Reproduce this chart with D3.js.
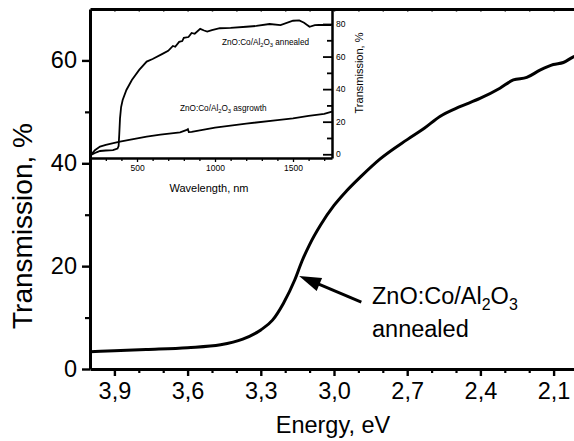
<!DOCTYPE html>
<html><head><meta charset="utf-8">
<script src="https://cdn.jsdelivr.net/npm/d3@7"></script>
<style>
html,body{margin:0;padding:0;background:#fff;overflow:hidden;}
svg text{font-family:"Liberation Sans",Arial,Helvetica,sans-serif;fill:#000;}
</style></head>
<body>
<svg id="c" width="574" height="441"></svg>
<script>
// ---- main chart data ----
const energy = [4.0, 3.9, 3.77, 3.6, 3.465, 3.374, 3.3, 3.252, 3.207, 3.161, 3.131, 3.10, 3.055, 3.0, 2.949, 2.888, 2.812, 2.7, 2.63, 2.566, 2.484, 2.402, 2.32, 2.265, 2.21, 2.156, 2.101, 2.06, 2.019, 2.0];
const trans  = [3.35, 3.55, 3.8, 4.15, 4.7, 5.8, 7.6, 9.5, 12.8, 17.3, 21.0, 24.2, 28.0, 31.8, 34.6, 37.5, 40.8, 44.6, 46.8, 49.1, 51.0, 52.6, 54.6, 56.2, 56.7, 58.1, 59.2, 59.6, 60.7, 61.1];
const xMajorTicks = [3.9, 3.6, 3.3, 3.0, 2.7, 2.4, 2.1];
const yMajorTicks = [0, 20, 40, 60];
const yMinorTicks = [10, 30, 50];

// ---- inset data ----
const wlAnnealed = [205, 240, 263, 300, 346, 375, 382, 386, 391, 398, 408, 432, 467, 514, 562, 600, 660, 700, 730, 745, 770, 790, 800, 830, 850, 870, 905, 930, 950, 980, 1031, 1100, 1200, 1265, 1350, 1420, 1500, 1540, 1571, 1606, 1640, 1665, 1747];
const tAnnealed  = [-0.4, 1.2, 2.0, 2.3, 2.5, 3.5, 5.0, 12.0, 22.0, 29.0, 33.3, 39.5, 45.6, 51.8, 56.9, 58.5, 61.5, 63.5, 66.5, 66.0, 69.0, 69.5, 71.5, 72.0, 74.5, 74.0, 77.0, 76.0, 75.3, 76.3, 77.4, 77.6, 78.3, 78.8, 80.0, 79.3, 82.0, 82.2, 80.8, 78.3, 79.3, 79.4, 79.4];
const wlAsgrowth = [205, 230, 263, 300, 348, 391, 450, 562, 650, 776, 815, 826, 832, 850, 1000, 1200, 1400, 1500, 1600, 1700, 1750];
const tAsgrowth  = [-0.4, 2.5, 4.7, 5.8, 6.8, 7.7, 8.8, 10.8, 12.0, 13.5, 14.8, 15.4, 13.6, 13.8, 16.3, 18.8, 21.0, 22.1, 23.6, 24.8, 26.2];
const insetXTicks = [500, 1000, 1500];
const insetYTicks = [0, 20, 40, 60, 80];

const svg = d3.select("#c");
const FONT = 23.5;

// scales
const x = d3.scaleLinear().domain([4.0, 2.0]).range([90, 578]);
const y = d3.scaleLinear().domain([0, 70]).range([369, 9]);
const xi = d3.scaleLinear().domain([205, 1750]).range([91, 332]);
const yi = d3.scaleLinear().domain([-2.3, 88.6]).range([158, 10]);

const commaFmt = d3.formatLocale({decimal: ",", thousands: ".", grouping: [3], currency: ["", ""]}).format(".1f");

// main curve
const mainData = energy.map((e, i) => [e, trans[i]]);
svg.append("defs").append("clipPath").attr("id", "clipMain")
  .append("rect").attr("x", 90).attr("y", 9).attr("width", 490).attr("height", 360);
svg.append("path").datum(mainData)
  .attr("clip-path", "url(#clipMain)")
  .attr("fill", "none").attr("stroke", "#000").attr("stroke-width", 3)
  .attr("d", d3.line().x(d => x(d[0])).y(d => y(d[1])).curve(d3.curveMonotoneX));

// bottom axis minor ticks
const minorX = d3.range(39, 19, -1).map(v => v / 10).filter(v => !xMajorTicks.some(m => Math.abs(m - v) < 1e-6));
const gxMinor = svg.append("g").attr("transform", `translate(0,${y(0)})`)
  .call(d3.axisBottom(x).tickValues(minorX).tickSize(4).tickFormat(""));
gxMinor.select(".domain").remove();
gxMinor.selectAll("line").attr("stroke-width", 2.2);

const gx = svg.append("g").attr("transform", `translate(0,${y(0)})`)
  .call(d3.axisBottom(x).tickValues(xMajorTicks).tickSize(7).tickSizeOuter(0).tickPadding(6).tickFormat(commaFmt));
gx.select(".domain").attr("stroke-width", 3);
gx.selectAll("line").attr("stroke-width", 2.4);
gx.selectAll("text").attr("font-size", FONT).attr("dy", "0.72em").attr("font-family", null);

// top frame with inward ticks
const gTop = svg.append("g").attr("transform", `translate(0,${y(70)})`)
  .call(d3.axisTop(x).tickValues(d3.range(39, 19, -1).map(v => v / 10)).tickSize(-2.5).tickSizeOuter(0).tickFormat(""));
gTop.select(".domain").attr("stroke-width", 3);
gTop.selectAll("line").attr("stroke-width", 1.5);

// left axis
const gyMinor = svg.append("g").attr("transform", `translate(${x(4.0)},0)`)
  .call(d3.axisLeft(y).tickValues(yMinorTicks).tickSize(5).tickFormat(""));
gyMinor.select(".domain").remove();
gyMinor.selectAll("line").attr("stroke-width", 2.2);
const gy = svg.append("g").attr("transform", `translate(${x(4.0)},0)`)
  .call(d3.axisLeft(y).tickValues(yMajorTicks).tickSize(8).tickSizeOuter(0).tickPadding(5).tickFormat(d3.format("d")));
gy.select(".domain").attr("stroke-width", 3);
gy.selectAll("line").attr("stroke-width", 2.4);
gy.selectAll("text").attr("font-size", FONT).attr("font-family", null);

// axis titles
svg.append("text").attr("x", 333).attr("y", 433).attr("text-anchor", "middle")
  .attr("font-size", FONT).text("Energy, eV");
svg.append("text").attr("transform", "translate(32,226) rotate(-90)").attr("text-anchor", "middle")
  .attr("font-size", 28).text("Transmission, %");

// main annotation
const lbl = svg.append("text").attr("x", 372).attr("y", 304).attr("font-size", FONT);
lbl.append("tspan").text("ZnO:Co/Al");
lbl.append("tspan").attr("font-size", FONT * 0.68).attr("dy", 6).text("2");
lbl.append("tspan").attr("dy", -6).text("O");
lbl.append("tspan").attr("font-size", FONT * 0.68).attr("dy", 6).text("3");
svg.append("text").attr("x", 372).attr("y", 337).attr("font-size", FONT).text("annealed");

// arrow (in data coordinates)
const tip = [x(3.143), y(18.1)], tail = [x(2.888), y(13.0)];
const dx = tip[0] - tail[0], dy = tip[1] - tail[1], L = Math.hypot(dx, dy);
const ux = dx / L, uy = dy / L, hl = 22, hw = 7;
const base = [tip[0] - ux * hl, tip[1] - uy * hl];
svg.append("line").attr("x1", tail[0]).attr("y1", tail[1]).attr("x2", base[0] + ux * 2).attr("y2", base[1] + uy * 2)
  .attr("stroke", "#000").attr("stroke-width", 3);
svg.append("path").attr("fill", "#000")
  .attr("d", `M${tip[0]},${tip[1]}L${base[0] - uy * hw},${base[1] + ux * hw}L${base[0] + uy * hw},${base[1] - ux * hw}Z`);

// ---- inset ----
const gi = svg.append("g");
gi.append("path").datum(wlAnnealed.map((w, i) => [w, tAnnealed[i]]))
  .attr("fill", "none").attr("stroke", "#000").attr("stroke-width", 1.8)
  .attr("d", d3.line().x(d => xi(d[0])).y(d => yi(d[1])));
gi.append("path").datum(wlAsgrowth.map((w, i) => [w, tAsgrowth[i]]))
  .attr("fill", "none").attr("stroke", "#000").attr("stroke-width", 1.8)
  .attr("d", d3.line().x(d => xi(d[0])).y(d => yi(d[1])));

// inset bottom axis
const gxiMinor = gi.append("g").attr("transform", `translate(0,158)`)
  .call(d3.axisBottom(xi).tickValues(d3.range(300, 1750, 100).filter(v => v % 500 !== 0)).tickSize(3).tickFormat(""));
gxiMinor.select(".domain").remove();
gxiMinor.selectAll("line").attr("stroke-width", 1.3);
const gxi = gi.append("g").attr("transform", `translate(0,158)`)
  .call(d3.axisBottom(xi).tickValues(insetXTicks).tickSize(4).tickSizeOuter(0).tickPadding(3).tickFormat(d3.format("d")));
gxi.select(".domain").attr("stroke-width", 2.5);
gxi.selectAll("line").attr("stroke-width", 1.3);
gxi.selectAll("text").attr("font-size", 8.5).attr("font-family", null);

// inset right axis (ticks inward)
const gyiMinor = gi.append("g").attr("transform", `translate(332,0)`)
  .call(d3.axisLeft(yi).tickValues([10, 30, 50, 70]).tickSize(5).tickFormat(""));
gyiMinor.select(".domain").remove();
gyiMinor.selectAll("line").attr("stroke-width", 1.8);
const gyi = gi.append("g").attr("transform", `translate(332,0)`)
  .call(d3.axisRight(yi).tickValues(insetYTicks).tickSize(0).tickSizeOuter(0).tickPadding(4).tickFormat(d3.format("d")));
gyi.select(".domain").attr("stroke-width", 2.5);
gyi.selectAll(".tick line").attr("x2", -9).attr("stroke-width", 1.8);
gyi.selectAll("text").attr("font-size", 8.5).attr("font-family", null);

gi.append("text").attr("x", 209).attr("y", 192).attr("text-anchor", "middle")
  .attr("font-size", 11).text("Wavelength, nm");
gi.append("text").attr("transform", "translate(363,73) rotate(-90)").attr("text-anchor", "middle")
  .attr("font-size", 11).text("Transmission, %");

function chem(g, px, py, fs, suffix) {
  const t = g.append("text").attr("x", px).attr("y", py).attr("font-size", fs);
  t.append("tspan").text("ZnO:Co/Al");
  t.append("tspan").attr("font-size", fs * 0.7).attr("dy", 2).text("2");
  t.append("tspan").attr("dy", -2).text("O");
  t.append("tspan").attr("font-size", fs * 0.7).attr("dy", 2).text("3");
  t.append("tspan").attr("dy", -2).text(" " + suffix);
}
chem(gi, 222, 45, 8.2, "annealed");
chem(gi, 180, 111, 8.2, "asgrowth");
</script>
</body></html>
